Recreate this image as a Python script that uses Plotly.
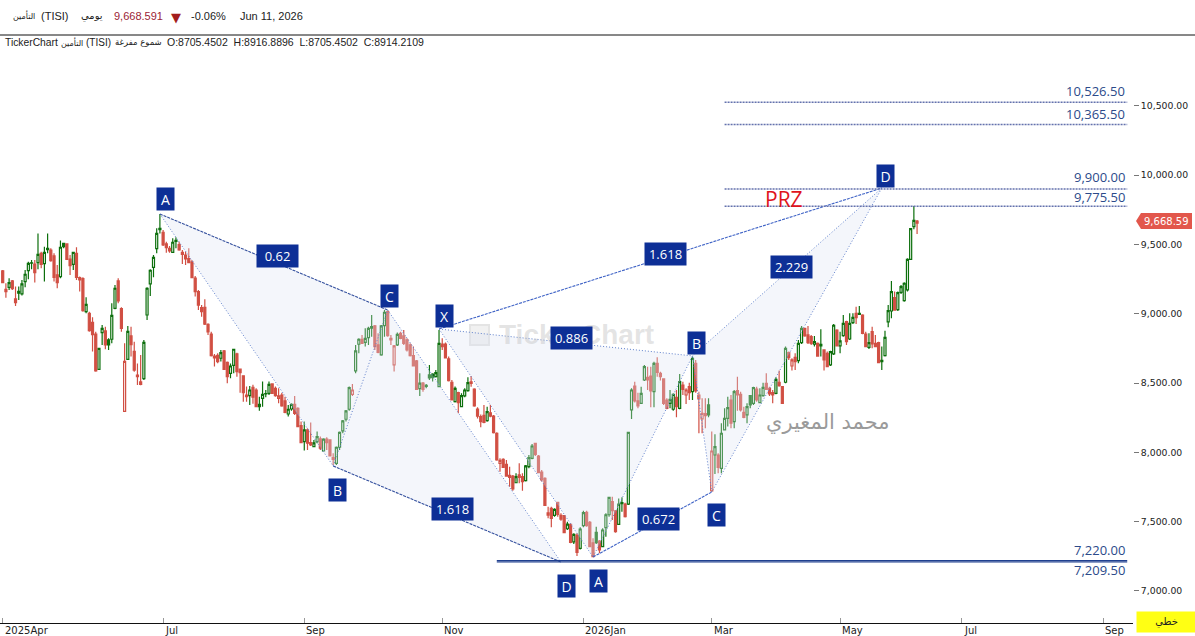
# -*- coding: utf-8 -*-
import plotly.graph_objects as go

#%% Datos (TISI diario)

opens = [
    9309,9160,9191,9237,9107,9162,9143,9232,9311,9368,
    9359,9369,9436,9362,9472,9460,9417,9280,9268,9508,
    9504,9395,9357,9436,9261,9253,9015,9003,8938,8854,
    8599,8864,8876,8811,8816,9039,9237,9037,8296,8671,
    8840,8729,8558,8508,8532,8991,9215,9335,9470,9617,
    9588,9504,9472,9443,9529,9499,9429,9424,9398,9374,
    9258,9160,9044,9047,8924,8854,8681,8700,8679,8732,
    8650,8570,8628,8710,
    8600,8552,8414,8410,8470,8450,8330,8390,8424,8426,
    8494,8462,8390,8414,8371,8277,8313,8347,8318,8193,
    8078,8162,8070,8042,8078,8097,8010,8095,8090,7962,
    7921,8037,8155,8239,8311,8419,8588,8780,8816,8794,
    8828,8908,8912,8775,8703,8915,9016,8823,8631,8775,
    8859,8840,8811,8775,8698,8660,8460,8499,8483,8559,
    8564,8547,8475,8782,8782,8674,8506,8366,8431,8330,
    8407,8446,
    8508,8457,8313,8258,8267,8229,8286,8262,8137,7920,
    7950,7914,7834,7829,7781,7837,7825,7796,7897,7957,
    8065,7974,7858,7813,7563,7596,7546,7639,7546,7543,
    7449,7481,7355,7404,7308,7471,7567,7495,7348,7423,
    7360,7320,7457,7550,7644,7579,7481,7637,7627,7627,
    8306,8479,8371,8354,8522,8541,8551,8438,8642,
    8570,8530,8378,8354,8311,8397,8318,8486,8414,8474,
    8438,8643,8414,8241,8279,8342,7722,7981,7981,7885,
    8162,8246,8378,8222,8445,8419,8289,8270,8409,8354,
    8457,8359,8409,8498,8462,8431,8426,8506,8474,8506,
    8720,8623,8686,8662,
    8792,8895,8847,8835,8780,8787,8780,8739,8715,8631,
    8710,8883,8768,8842,8943,8818,8936,9003,9003,8991,
    8854,8758,8871,8787,8792,8664,8698,8941,9020,9116,
    9030,9155,9095,9172,9393,9629,9653,
]
highs = [
    9316,9220,9256,9244,9196,9196,9244,9316,9376,9388,
    9388,9580,9448,9484,9580,9472,9436,9352,9528,9513,
    9508,9424,9448,9480,9268,9263,9119,9015,8974,8871,
    8751,8919,8907,8823,9075,9208,9256,9047,8787,8912,
    8907,8799,8642,8703,8811,9191,9321,9424,9617,9720,
    9605,9520,9489,9544,9552,9520,9460,9448,9472,9388,
    9273,9172,9063,9104,8931,8871,8710,8715,8739,8739,
    8655,8642,8744,8719,
    8600,8552,8475,8479,8487,8462,8402,8511,8450,8511,
    8499,8475,8462,8431,8402,8342,8354,8407,8325,8222,
    8222,8174,8215,8090,8150,8114,8102,8109,8095,7994,
    8042,8150,8234,8306,8475,8494,8775,8823,8847,8895,
    8907,8992,8919,8859,8919,9028,9023,8847,8775,8864,
    8871,8883,8823,8787,8763,8667,8571,8508,8494,8631,
    8571,8595,8883,8823,8792,8691,8523,8475,8438,8426,
    8462,8542,
    8551,8462,8325,8274,8342,8330,8342,8270,8145,7957,
    7957,7945,7897,7837,7849,7921,7849,7909,7981,8060,
    8070,7981,7873,7820,7608,7608,7596,7644,7560,7548,
    7500,7488,7416,7416,7459,7579,7579,7505,7380,7464,
    7368,7452,7560,7680,7680,7584,7668,7676,7637,8149,
    8462,8510,8431,8474,8630,8618,8618,8654,8686,
    8582,8534,8390,8450,8426,8450,8566,8510,8462,8503,
    8691,8667,8438,8390,8390,8390,8150,8130,7993,8210,
    8318,8402,8414,8450,8546,8438,8330,8354,8414,8474,
    8474,8462,8503,8570,8474,8450,8542,8590,8479,8763,
    8727,8679,8715,8811,
    8912,8895,8912,8847,8840,8792,8888,8744,8727,8734,
    8926,8888,8871,8991,8950,9003,9003,9051,9056,8996,
    8871,8859,8907,8847,8799,8763,8878,9063,9237,9160,
    9160,9208,9227,9400,9619,9778,9677,
]
lows = [
    9220,9116,9172,9172,9056,9100,9131,9191,9249,9321,
    9225,9321,9328,9232,9436,9376,9232,9184,9256,9472,
    9388,9280,9316,9244,9160,9015,9003,8871,8727,8582,
    8594,8775,8744,8739,8787,9032,9075,8871,8291,8667,
    8691,8582,8486,8484,8522,8955,9128,9263,9436,9580,
    9489,9441,9441,9441,9472,9455,9359,9352,9364,9256,
    9124,9027,8979,8919,8847,8691,8619,8643,8655,8594,
    8498,8534,8570,8546,
    8431,8366,8366,8342,8350,8325,8301,8330,8398,8414,
    8422,8402,8354,8330,8282,8258,8301,8270,8181,8066,
    8013,8018,8046,8037,8066,8018,8006,8018,7970,7909,
    7909,8018,8138,8222,8301,8407,8571,8715,8782,8763,
    8775,8835,8739,8715,8698,8835,8835,8775,8583,8768,
    8816,8775,8727,8691,8619,8450,8407,8438,8463,8523,
    8511,8540,8470,8739,8677,8511,8374,8359,8282,8325,
    8398,8438,
    8474,8330,8245,8181,8210,8221,8253,8137,7940,7861,
    7887,7825,7752,7724,7777,7777,7724,7789,7885,7950,
    7974,7849,7789,7613,7524,7459,7536,7536,7507,7416,
    7440,7344,7339,7252,7300,7459,7464,7315,7243,7339,
    7272,7315,7392,7536,7512,7421,7476,7572,7531,7620,
    8241,8359,8318,8349,8515,8450,8325,8325,8546,
    8518,8342,8311,8318,8301,8253,8311,8414,8349,8378,
    8378,8431,8138,8138,8174,8253,7717,7844,7849,7849,
    8157,8186,8174,8174,8301,8294,8246,8210,8318,8342,
    8366,8354,8402,8450,8407,8354,8419,8474,8349,8498,
    8667,8590,8595,8643,
    8782,8835,8782,8775,8763,8691,8691,8590,8614,8623,
    8703,8763,8715,8835,8775,8811,8926,8926,8991,8852,
    8758,8746,8751,8758,8643,8595,8691,8902,8967,9023,
    9020,9143,9087,9160,9388,9609,9576,
]
closes = [
    9225,9176,9225,9181,9080,9148,9215,9285,9364,9366,
    9297,9429,9357,9443,9463,9383,9263,9225,9480,9484,
    9393,9347,9443,9263,9244,9023,9068,8878,8849,8587,
    8751,8895,8775,8775,8989,9184,9092,8895,8657,8873,
    8777,8594,8546,8491,8794,9184,9314,9407,9580,9607,
    9496,9477,9453,9516,9523,9460,9443,9395,9369,9261,
    9160,9063,9015,8926,8869,8698,8695,8655,8719,8599,
    8546,8623,8744,8582,
    8576,8431,8402,8450,8398,8330,8347,8419,8421,8491,
    8426,8410,8408,8335,8289,8311,8347,8282,8186,8070,
    8162,8066,8054,8068,8114,8030,8095,8070,7974,7950,
    8037,8145,8227,8299,8467,8450,8732,8816,8787,8823,
    8895,8897,8763,8722,8912,9011,8843,8811,8768,8852,
    8823,8787,8739,8698,8624,8455,8499,8455,8476,8537,
    8540,8576,8787,8763,8681,8518,8378,8462,8359,8410,
    8450,8503,
    8498,8335,8262,8221,8217,8294,8262,8142,7945,7943,
    7892,7829,7820,7736,7825,7820,7789,7902,7962,8046,
    7986,7853,7801,7618,7548,7524,7589,7553,7519,7421,
    7483,7351,7409,7279,7447,7565,7471,7320,7247,7348,
    7296,7440,7550,7676,7579,7428,7627,7630,7536,8144,
    8450,8371,8335,8426,8618,8522,8443,8642,8577,
    8546,8354,8318,8383,8419,8330,8510,8455,8450,8431,
    8679,8443,8385,8282,8265,8270,8010,8041,7892,8138,
    8246,8323,8210,8438,8414,8306,8253,8330,8342,8467,
    8378,8414,8469,8455,8421,8414,8527,8481,8354,8751,
    8684,8667,8655,8787,
    8895,8840,8792,8787,8799,8695,8768,8667,8619,8727,
    8917,8768,8804,8931,8799,8931,8974,8972,8996,8859,
    8763,8792,8782,8763,8647,8655,8830,9023,9160,9027,
    9152,9196,9220,9393,9614,9674,9668.59,
]

# eje de tiempo: posicion de vela donde empieza cada etiqueta
month_ticks = [0, 50, 94, 137, 181, 221, 261, 299, 343]
month_labels = ['2025Apr', 'Jul', 'Sep', 'Nov', '2026Jan', 'Mar', 'May', 'Jul', 'Sep']
price_ticks = [7000, 7500, 8000, 8500, 9000, 9500, 10000, 10500]

# patron 1: A B C D
p1_x = [49, 103, 120, 174]
p1_y = [9720, 7902, 9027, 7209]
# patron 2: X A B C D
p2_x = [136, 184, 215, 221, 274]
p2_y = [8890, 7245, 8696, 7714, 9907]

point_names = ['A', 'B', 'C', 'D', 'X', 'A', 'B', 'C', 'D']
point_label_x = [50.6, 104.5, 120.7, 175.6, 137.6, 185.6, 216.4, 222.4, 275.3]
point_label_y = [9828, 7729, 9128, 7036, 8984, 7072, 8789, 7548, 9994]

ratio_names = ['0.62', '1.618', '1.618', '0.886', '0.672', '2.229']
ratio_label_x = [85.5, 140.1, 206.5, 177.2, 204.3, 246]
ratio_label_y = [9417, 7592, 9431, 8825, 7519, 9338]

upper_levels = [10526.5, 10365.5, 9900, 9775.5]
lower_levels = [7220, 7209.5]
level_names = ['10,526.50', '10,365.50', '9,900.00', '9,775.50', '7,220.00', '7,209.50']
level_label_y = [10605, 10440, 9985, 9845, 7298, 7150]

last_price = 9668.59

#%% Figura

PLOT_W = 1133.0
PLOT_H = 587.0
GREEN = '#0c6f0c'
RED = '#d14f43'
NAVY = '#0d2f96'
LEVEL_TEXT = '#2c4a8a'
FILL = 'rgba(222,227,243,0.32)'


def px_x(x):
    return x / PLOT_W


def px_y(y):
    return (623 - y) / PLOT_H


# velas huecas: hueca si cierra sobre la apertura, color segun cierre anterior
groups = {'hg': [], 'hr': [], 'sg': [], 'sr': []}
for i in range(len(closes)):
    prev = closes[i - 1] if i > 0 else opens[i]
    key = ('h' if closes[i] > opens[i] else 's') + ('g' if closes[i] >= prev else 'r')
    groups[key].append(i)

fig = go.Figure()

# sombreado de los patrones, debajo de las velas
for tx, ty in [
    ([p1_x[0], p1_x[1], p1_x[2]], [p1_y[0], p1_y[1], p1_y[2]]),
    ([p1_x[1], p1_x[2], p1_x[3]], [p1_y[1], p1_y[2], p1_y[3]]),
    ([p2_x[0], p2_x[1], p2_x[2]], [p2_y[0], p2_y[1], p2_y[2]]),
    ([p2_x[2], p2_x[3], p2_x[4]], [p2_y[2], p2_y[3], p2_y[4]]),
]:
    fig.add_trace(go.Scatter(x=tx + tx[:1], y=ty + ty[:1], mode='lines', fill='toself',
                             fillcolor=FILL, line=dict(width=0), hoverinfo='skip'))

for key, line_col, fill_col in [('hg', GREEN, '#ffffff'), ('hr', RED, '#ffffff'),
                                ('sg', GREEN, GREEN), ('sr', RED, RED)]:
    idx = groups[key]
    fig.add_trace(go.Candlestick(
        x=idx,
        open=[opens[i] for i in idx],
        high=[highs[i] for i in idx],
        low=[lows[i] for i in idx],
        close=[closes[i] for i in idx],
        increasing=dict(line=dict(color=line_col, width=1.2), fillcolor=fill_col),
        decreasing=dict(line=dict(color=line_col, width=1.2), fillcolor=fill_col),
        whiskerwidth=0,
        hoverinfo='skip',
    ))

# lineas punteadas de las patas
for xs, ys in [(p1_x, p1_y), (p2_x, p2_y)]:
    fig.add_trace(go.Scatter(x=xs, y=ys, mode='lines', hoverinfo='skip',
                             line=dict(color='#5f80cc', width=1, dash='1px,2px')))
for xs, ys, col in [
    ([p1_x[0], p1_x[2]], [p1_y[0], p1_y[2]], '#34509e'),
    ([p1_x[1], p1_x[3]], [p1_y[1], p1_y[3]], '#34509e'),
    ([p2_x[0], p2_x[4]], [p2_y[0], p2_y[4]], '#3f63c6'),
    ([p2_x[1], p2_x[3]], [p2_y[1], p2_y[3]], '#3f63c6'),
]:
    fig.add_trace(go.Scatter(x=xs, y=ys, mode='lines', hoverinfo='skip',
                             line=dict(color=col, width=1.1, dash='3px,1px')))
for xs, ys in [([p2_x[0], p2_x[2]], [p2_y[0], p2_y[2]]), ([p2_x[2], p2_x[4]], [p2_y[2], p2_y[4]])]:
    fig.add_trace(go.Scatter(x=xs, y=ys, mode='lines', hoverinfo='skip',
                             line=dict(color='#5f80cc', width=1, dash='1px,2px')))

# niveles horizontales
for lv in upper_levels:
    fig.add_trace(go.Scatter(x=[225, 350.5], y=[lv, lv], mode='lines', hoverinfo='skip',
                             line=dict(color='#6472ad', width=1.5, dash='2px,1px')))
for lv in lower_levels:
    fig.add_trace(go.Scatter(x=[154, 350.5], y=[lv, lv], mode='lines', hoverinfo='skip',
                             line=dict(color='#1f3f8f', width=1.2)))

ann = []

# marca de agua primero, las cajas quedan encima
ann.append(dict(x=179, y=8847, text='<b>TickerChart</b>', showarrow=False,
                font=dict(family='Liberation Sans', size=28, color='rgba(195,195,195,0.45)')))
ann.append(dict(x=257.3, y=8220, text='محمد المغيري', showarrow=False,
                font=dict(family='DejaVu Sans', size=21, color='#9a9a9a')))

for name, x, y in zip(point_names, point_label_x, point_label_y):
    ann.append(dict(x=x, y=y, text=name, showarrow=False, bgcolor=NAVY, width=15, height=20,
                    font=dict(family='Open Sans', size=14, color='#ffffff')))
for name, x, y in zip(ratio_names, ratio_label_x, ratio_label_y):
    ann.append(dict(x=x, y=y, text=name, showarrow=False, bgcolor=NAVY, width=39, height=20,
                    font=dict(family='Open Sans', size=13, color='#ffffff')))
for name, y in zip(level_names, level_label_y):
    ann.append(dict(x=350.4, y=y, text=name, showarrow=False, xanchor='right',
                    font=dict(family='Open Sans', size=13, color=LEVEL_TEXT)))

ann.append(dict(x=243.4, y=9775.5, yanchor='middle', yshift=7, text='PRZ', showarrow=False,
                font=dict(family='Open Sans', size=21, color='#e0141c')))

# etiquetas de meses alineadas a la izquierda de la marca
for tick, label in zip(month_ticks, month_labels):
    ann.append(dict(x=tick, xref='x', y=0, yref='paper', yanchor='top', xanchor='left',
                    text=label, showarrow=False,
                    font=dict(family='DejaVu Sans', size=10, color='#222222')))

# cabecera
header = [
    (11, 16, 'التأمين', 'DejaVu Sans', 8, '#222222'),
    (39, 16, '(TISI)', 'Liberation Sans', 11, '#222222'),
    (79, 16, 'يومي', 'DejaVu Sans', 10, '#222222'),
    (112, 16, '9,668.591', 'Liberation Sans', 11, '#9b2335'),
    (169, 17, '▼', 'DejaVu Sans', 13, '#a31d1d'),
    (189, 16, '-0.06%', 'Liberation Sans', 11, '#222222'),
    (238, 16, 'Jun 11, 2026', 'Liberation Sans', 11, '#222222'),
    (3, 42, 'TickerChart', 'Liberation Sans', 10.3, '#222222'),
    (59, 42, 'التأمين', 'DejaVu Sans', 8, '#222222'),
    (84, 42, '(TISI)', 'Liberation Sans', 10, '#222222'),
    (113, 42, 'شموع مفرغة', 'DejaVu Sans', 8.5, '#222222'),
    (165, 42, 'O:8705.4502 &nbsp;H:8916.8896 &nbsp;L:8705.4502 &nbsp;C:8914.2109',
     'Liberation Sans', 10.5, '#222222'),
]
for x, y, text, family, size, col in header:
    ann.append(dict(x=px_x(x), y=px_y(y), xref='paper', yref='paper', xanchor='left', yanchor='middle',
                    text=text, showarrow=False, font=dict(family=family, size=size, color=col)))

# etiqueta de precio y boton amarillo
ann.append(dict(x=px_x(1166), y=last_price, xref='paper', yref='y', xanchor='center', text='9,668.59',
                showarrow=False, font=dict(family='DejaVu Sans', size=10, color='#ffffff')))
ann.append(dict(x=px_x(1166.5), y=px_y(622), xref='paper', yref='paper', xanchor='center', yanchor='middle',
                text='خطي', showarrow=False, bgcolor='#ffff14', width=57, height=18,
                font=dict(family='DejaVu Sans', size=10, color='#222222')))

shapes = [
    dict(type='line', xref='paper', yref='paper', x0=0, x1=1195 / PLOT_W, y0=px_y(35), y1=px_y(35),
         line=dict(color='#111111', width=1)),
    dict(type='rect', xref='paper', yref='paper', x0=px_x(470), x1=px_x(489), y0=px_y(345), y1=px_y(325),
         line=dict(color='#e4e4e4', width=2), fillcolor='#f1f1f1', layer='below'),
    dict(type='path', xref='paper', yref='y', xsizemode='pixel', ysizemode='pixel', xanchor=1, yanchor=last_price,
         path='M 3 0 L 8 -8 L 59 -8 L 59 8 L 8 8 Z', fillcolor='#e2574c', line=dict(width=0)),
]

fig.update_layout(
    width=1195,
    height=636,
    margin=dict(l=0, r=62, t=36, b=13, autoexpand=False),
    paper_bgcolor='#ffffff',
    plot_bgcolor='#ffffff',
    showlegend=False,
    boxmode='overlay',
    boxgap=0.1,
    annotations=ann,
    shapes=shapes,
    xaxis=dict(
        range=[-0.84, 352.3],
        rangeslider=dict(visible=False),
        showgrid=False,
        zeroline=False,
        showline=True,
        linecolor='#111111',
        linewidth=1,
        ticks='inside',
        ticklen=5,
        tickcolor='#999999',
        tickmode='array',
        tickvals=month_ticks,
        showticklabels=False,
    ),
    yaxis=dict(
        side='right',
        range=[6769, 11004],
        showgrid=False,
        zeroline=False,
        showline=False,
        ticks='outside',
        ticklen=5,
        tickcolor='#777777',
        tickmode='array',
        tickvals=price_ticks,
        tickformat=',.2f',
        tickfont=dict(family='DejaVu Sans', size=9.3, color='#222222'),
    ),
)

fig.write_html("out.html", config=dict(displayModeBar=False),
               post_script="document.body.style.margin='0';")
